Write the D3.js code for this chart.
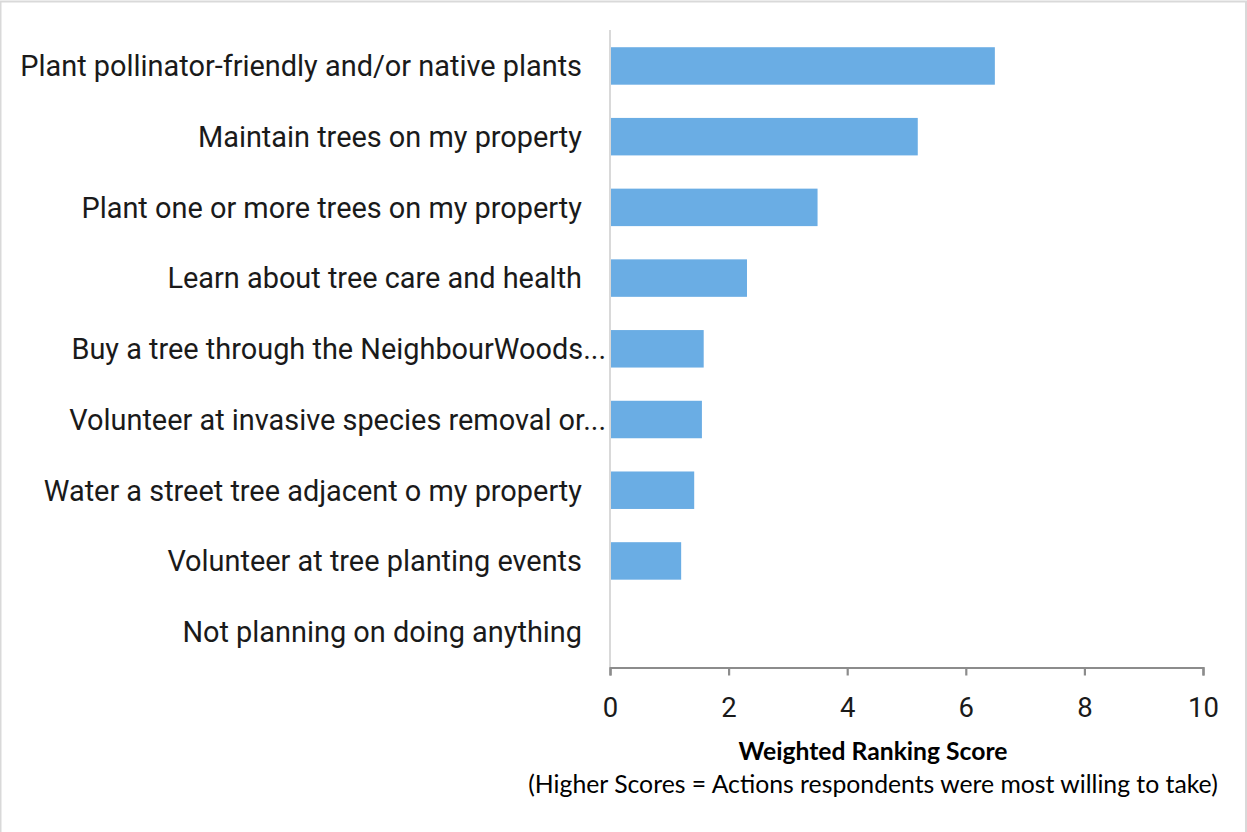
<!DOCTYPE html>
<html>
<head>
<meta charset="utf-8">
<script src="https://cdn.jsdelivr.net/npm/d3@7"></script>
<style>
  html, body { margin: 0; padding: 0; background: #fff; }
  svg { display: block; }
</style>
</head>
<body>
<script>
// Actions ranked by respondents, top to bottom
const categories = [
  "Plant pollinator-friendly and/or native plants",
  "Maintain trees on my property",
  "Plant one or more trees on my property",
  "Learn about tree care and health",
  "Buy a tree through the NeighbourWoods...",
  "Volunteer at invasive species removal or...",
  "Water a street tree adjacent o my property",
  "Volunteer at tree planting events",
  "Not planning on doing anything"
];
const scores = [6.49, 5.19, 3.5, 2.31, 1.58, 1.55, 1.42, 1.2, 0];
const xTicks = [0, 2, 4, 6, 8, 10];
const axisTitle = "Weighted Ranking Score";
const axisSubtitle = "(Higher Scores = Actions respondents were most willing to take)";

const W = 1247, H = 832;
const labelFont = "Roboto, 'Open Sans', sans-serif";
const titleFont = "Lato, 'Open Sans', sans-serif";

const svg = d3.select("body").append("svg")
  .attr("width", W).attr("height", H);

// scale a text element's font size so it spans the wanted width
function fitWidth(sel, width) {
  const node = sel.node();
  const fs = parseFloat(sel.attr("font-size"));
  const w = node.getComputedTextLength();
  const size = fs * width / w;
  sel.attr("font-size", size);
  return size;
}

// chart frame
svg.append("rect")
  .attr("x", 0.5).attr("y", 1.5)
  .attr("width", W - 1.5).attr("height", H + 4)
  .attr("fill", "#fff").attr("stroke", "#d9d9d9").attr("stroke-width", 2);

const x = d3.scaleLinear().domain([0, 10]).range([610, 1203]);
const y = d3.scaleBand().domain(categories).range([30.6, 667]).paddingInner(0.47).paddingOuter(0.235);

// bars
svg.append("g").selectAll("rect")
  .data(categories)
  .join("rect")
  .attr("x", x(0))
  .attr("y", d => y(d))
  .attr("width", (d, i) => x(scores[i]) - x(0))
  .attr("height", y.bandwidth())
  .attr("fill", "#6aade4");

// category axis line
svg.append("line")
  .attr("x1", x(0)).attr("x2", x(0))
  .attr("y1", 30).attr("y2", 667)
  .attr("stroke", "#d9d9d9").attr("stroke-width", 2);

// category labels
const labels = svg.append("g").selectAll("text")
  .data(categories)
  .join("text")
  .attr("x", d => d.endsWith("...") ? 606 : 582)
  .attr("y", d => y(d) + y.bandwidth() / 2)
  .attr("dy", "0.36em")
  .attr("text-anchor", "end")
  .attr("font-family", labelFont)
  .attr("font-weight", 400)
  .attr("font-size", 26)
  .attr("fill", "#1a1a1a")
  .text(d => d);
const labelSize = fitWidth(d3.select(labels.nodes()[0]), 562);
labels.attr("font-size", labelSize);

// value axis
const xAxis = d3.axisBottom(x).tickValues(xTicks).tickSize(8).tickPadding(22).tickFormat(d3.format("d"));
const gx = svg.append("g").attr("transform", "translate(0,667.5)").call(xAxis);
gx.select(".domain").attr("stroke", "#8c8c8c").attr("stroke-width", 2.2);
gx.selectAll(".tick line").attr("stroke", "#8c8c8c").attr("stroke-width", 2.2);
gx.selectAll(".tick text")
  .attr("font-family", labelFont)
  .attr("font-size", 27.5)
  .attr("fill", "#1a1a1a");

// axis titles
const t1 = svg.append("text")
  .attr("x", 873).attr("y", 760)
  .attr("text-anchor", "middle")
  .attr("font-family", titleFont)
  .attr("font-weight", "bold")
  .attr("font-size", 20)
  .text(axisTitle);
fitWidth(t1, 269);

const t2 = svg.append("text")
  .attr("x", 873).attr("y", 793)
  .attr("text-anchor", "middle")
  .attr("font-family", titleFont)
  .attr("font-size", 20)
  .text(axisSubtitle);
fitWidth(t2, 690);
</script>
</body>
</html>
